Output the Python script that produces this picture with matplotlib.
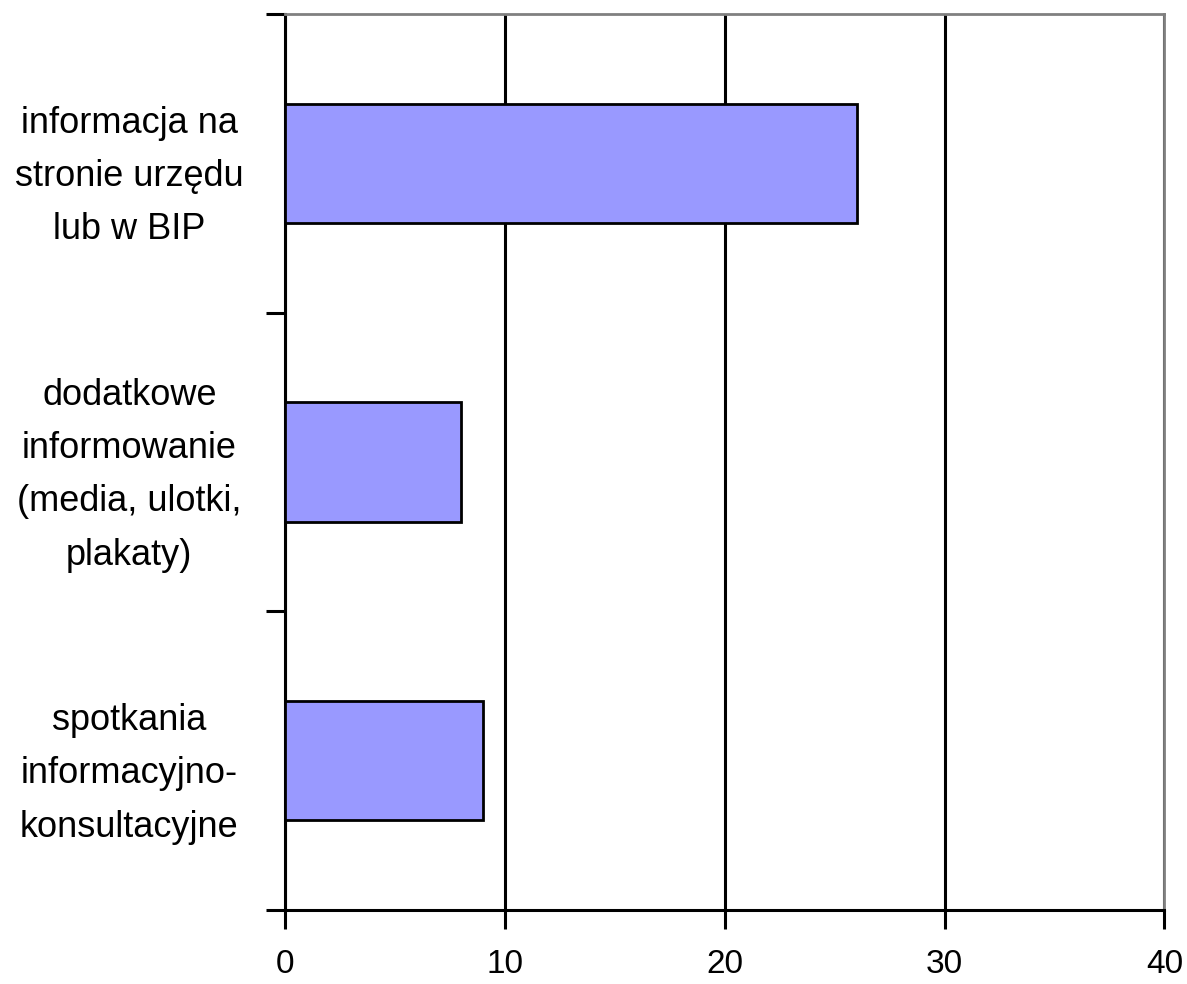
import matplotlib
matplotlib.use('Agg')
import matplotlib.pyplot as plt

# Data (top to bottom)
categories = [
    'informacja na\nstronie urzędu\nlub w BIP',
    'dodatkowe\ninformowanie\n(media, ulotki,\nplakaty)',
    'spotkania\ninformacyjno-\nkonsultacyjne',
]
values = [26, 8, 9]
x_ticks = [0, 10, 20, 30, 40]

plt.rcParams['font.family'] = ['Liberation Sans', 'DejaVu Sans']

fig = plt.figure(figsize=(11.87, 9.84), dpi=100)
ax = fig.add_axes([0.240, 0.0752, 0.741, 0.9106])

pos = list(range(len(categories)))[::-1]
ax.barh(pos, values, height=0.4, color='#9999ff', edgecolor='black', linewidth=2, zorder=3)

ax.set_xlim(0, 40)
ax.set_ylim(-0.5, len(categories) - 0.5)
ax.set_xticks(x_ticks)
ax.set_xticklabels([str(t) for t in x_ticks], fontsize=24)
ax.xaxis.grid(True, color='black', linewidth=2.2, zorder=0)

# y ticks sit on category boundaries, labels centred on categories
ax.set_yticks([p + 0.5 for p in range(-1, len(categories))])
ax.set_yticklabels([])
ax.set_yticks(pos, minor=True)
ax.set_yticklabels(categories, minor=True, fontsize=26, ha='center', linespacing=1.68)
ax.tick_params(axis='y', which='minor', length=0, pad=112)
ax.tick_params(axis='y', which='major', length=14, width=2.2, direction='out')
ax.tick_params(axis='x', length=14, width=2.2, direction='out', pad=14)

for s in ['left', 'bottom']:
    ax.spines[s].set_linewidth(2.2)
    ax.spines[s].set_color('black')
for s in ['top', 'right']:
    ax.spines[s].set_linewidth(2)
    ax.spines[s].set_color('#808080')

fig.savefig('out.png', dpi=100)
